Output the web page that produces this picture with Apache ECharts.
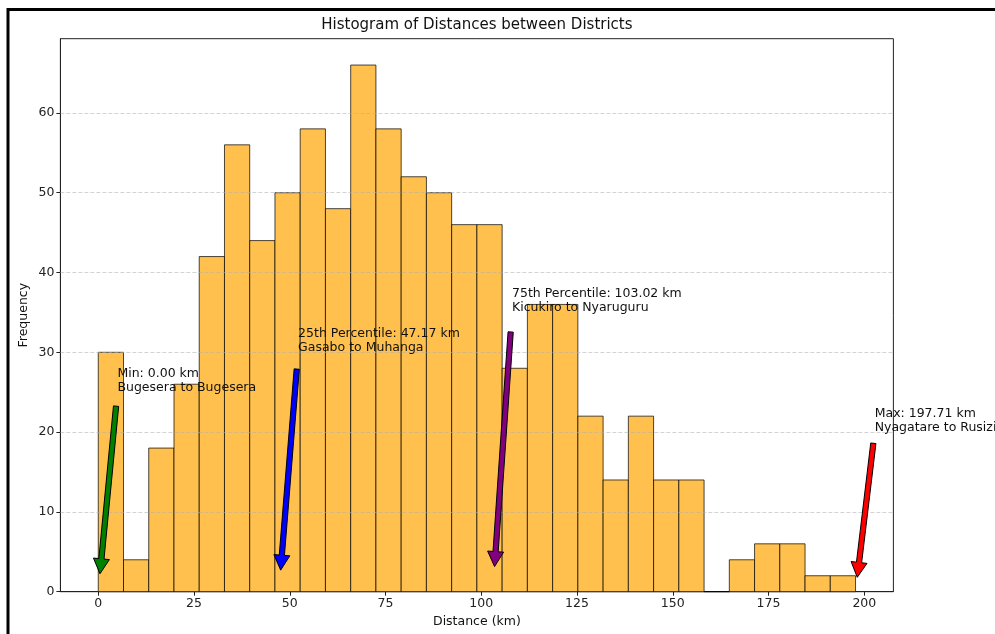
<!DOCTYPE html>
<html>
<head>
<meta charset="utf-8">
<title>Histogram of Distances between Districts</title>
<script src="https://cdn.jsdelivr.net/npm/echarts@6/dist/echarts.min.js"></script>
<style>
  html, body { margin: 0; padding: 0; background: #ffffff; }
  #chart { width: 995px; height: 634px; }
</style>
</head>
<body>
<div id="chart"></div>
<script>
// Distance histogram: 30 equal-width bins between the shortest and longest distance
const minDistance = 0.0;
const maxDistance = 197.71;
const binCount = 30;
const binCounts = [30, 4, 18, 26, 42, 56, 44, 50, 58, 48, 66, 58, 52, 50, 46,
                   46, 28, 36, 36, 22, 14, 22, 14, 14, 0, 4, 6, 6, 2, 2];

// Annotated statistics
const statValues = [0.0, 47.17, 103.02, 197.71];
const statTitles = ['Min: 0.00 km', '25th Percentile: 47.17 km', '75th Percentile: 103.02 km', 'Max: 197.71 km'];
const statPairs = ['Bugesera to Bugesera', 'Gasabo to Muhanga', 'Kicukiro to Nyaruguru', 'Nyagatare to Rusizi'];
const statTextY = [25, 30, 35, 20];
const statColors = ['green', 'blue', 'purple', 'red'];
const statTextOffset = 5;

// Axis ticks
const xTicks = [0, 25, 50, 75, 100, 125, 150, 175, 200];
const yTicks = [0, 10, 20, 30, 40, 50, 60];

const FONT = 'DejaVu Sans';
const SMALL = 12.5;

// Bin edges and bar items [start, end, count]
const binWidth = (maxDistance - minDistance) / binCount;
const barData = binCounts.map((c, i) => [minDistance + i * binWidth, minDistance + (i + 1) * binWidth, c]);

// Axis limits with 5% padding on x and y
const xPad = (maxDistance - minDistance) * 0.05;
const xMin = minDistance - xPad;
const xMax = maxDistance + xPad;
const yMax = Math.max(...binCounts) * 1.05;

const arrowData = statValues.map((v, i) => [v, statTextY[i], i]);

function renderBar(params, api) {
  const top = api.coord([api.value(0), api.value(2)]);
  const bottom = api.coord([api.value(1), 0]);
  return {
    type: 'rect',
    shape: { x: top[0], y: top[1], width: bottom[0] - top[0], height: bottom[1] - top[1] },
    style: { fill: '#FFC04D', stroke: 'rgba(0,0,0,0.7)', lineWidth: 1 }
  };
}

function renderArrow(params, api) {
  const value = api.value(0);
  const textY = api.value(1);
  const idx = api.value(2);
  const textPt = api.coord([value + statTextOffset, textY]);
  const target = api.coord([value, 0]);
  const dx = target[0] - textPt[0];
  const dy = target[1] - textPt[1];
  const len = Math.sqrt(dx * dx + dy * dy);
  const ux = dx / len, uy = dy / len;
  const nx = -uy, ny = ux;
  const tail = [textPt[0] + dx * 0.07, textPt[1] + dy * 0.07];
  const tip = [target[0] - dx * 0.09, target[1] - dy * 0.09];
  const headLen = 15, headHalf = 8, shaftHalf = 2.6;
  const neck = [tip[0] - ux * headLen, tip[1] - uy * headLen];
  const pts = [
    [tail[0] + nx * shaftHalf, tail[1] + ny * shaftHalf],
    [neck[0] + nx * shaftHalf, neck[1] + ny * shaftHalf],
    [neck[0] + nx * headHalf, neck[1] + ny * headHalf],
    tip,
    [neck[0] - nx * headHalf, neck[1] - ny * headHalf],
    [neck[0] - nx * shaftHalf, neck[1] - ny * shaftHalf],
    [tail[0] - nx * shaftHalf, tail[1] - ny * shaftHalf]
  ];
  return {
    type: 'group',
    children: [
      {
        type: 'polygon',
        shape: { points: pts },
        style: { fill: statColors[idx], stroke: '#000', lineWidth: 1 }
      },
      {
        type: 'text',
        x: textPt[0],
        y: textPt[1] + 3,
        style: {
          text: statTitles[idx] + '\n' + statPairs[idx],
          fill: '#111',
          font: SMALL + 'px "' + FONT + '"',
          lineHeight: 14.5,
          align: 'left',
          verticalAlign: 'bottom'
        }
      }
    ]
  };
}

const chart = echarts.init(document.getElementById('chart'), null, { renderer: 'canvas' });

const gridLeft = 60.4, gridRight = 101.6, gridTop = 38.7, gridBottom = 42.3;
const plotCenterX = gridLeft + (995 - gridLeft - gridRight) / 2;
const plotCenterY = gridTop + (634 - gridTop - gridBottom) / 2;

chart.setOption({
  animation: false,
  backgroundColor: '#ffffff',
  textStyle: { fontFamily: FONT },
  grid: {
    left: gridLeft, right: gridRight, top: gridTop, bottom: gridBottom,
    show: true, borderColor: '#222', borderWidth: 1, backgroundColor: 'transparent'
  },
  graphic: [
    {
      type: 'polyline', z: 100,
      shape: { points: [[8, 634], [8, 9.5], [995, 9.5]] },
      style: { stroke: '#000', lineWidth: 3, fill: null }
    },
    {
      type: 'text', x: plotCenterX, y: 25.5,
      style: { text: 'Histogram of Distances between Districts', font: '15px "' + FONT + '"', fill: '#111', align: 'center', verticalAlign: 'middle' }
    },
    {
      type: 'text', x: plotCenterX, y: 622,
      style: { text: 'Distance (km)', font: SMALL + 'px "' + FONT + '"', fill: '#111', align: 'center', verticalAlign: 'middle' }
    },
    {
      type: 'text', x: 24, y: plotCenterY, rotation: Math.PI / 2,
      style: { text: 'Frequency', font: SMALL + 'px "' + FONT + '"', fill: '#111', align: 'center', verticalAlign: 'middle' }
    }
  ],
  xAxis: {
    type: 'value', min: xMin, max: xMax,
    axisLine: { show: true, onZero: false, lineStyle: { color: '#222', width: 1 } },
    axisTick: { show: true, length: 4, customValues: xTicks, lineStyle: { color: '#222' } },
    axisLabel: { customValues: xTicks, color: '#222', fontSize: SMALL, fontFamily: FONT, margin: 6 },
    splitLine: { show: false }
  },
  yAxis: {
    type: 'value', min: 0, max: yMax,
    axisLine: { show: true, onZero: false, lineStyle: { color: '#222', width: 1 } },
    axisTick: { show: true, length: 4, customValues: yTicks, lineStyle: { color: '#222' } },
    axisLabel: { customValues: yTicks, color: '#222', fontSize: SMALL, fontFamily: FONT, margin: 6 },
    splitLine: { show: false }
  },
  series: [
    {
      name: 'Distances',
      type: 'custom',
      renderItem: renderBar,
      encode: { x: [0, 1], y: 2 },
      data: barData,
      z: 2,
      markLine: {
        silent: true,
        symbol: 'none',
        label: { show: false },
        lineStyle: { color: 'rgba(176,176,176,0.7)', type: [4, 2], width: 0.8 },
        data: yTicks.filter(v => v > 0).map(v => ({ yAxis: v }))
      }
    },
    {
      name: 'Statistics',
      type: 'custom',
      renderItem: renderArrow,
      encode: { x: 0, y: 1 },
      data: arrowData,
      clip: false,
      z: 5
    }
  ]
});
</script>
</body>
</html>
